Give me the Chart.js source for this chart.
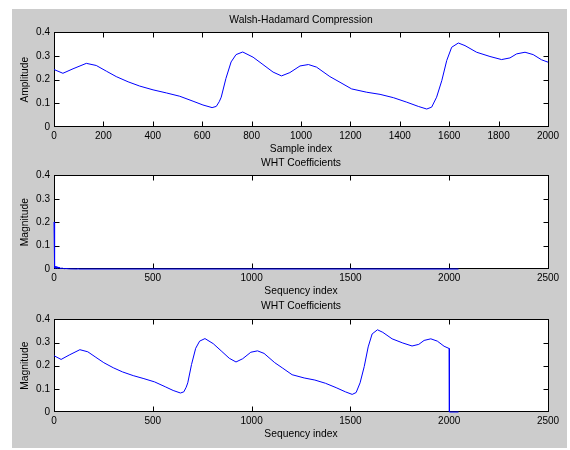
<!DOCTYPE html>
<html><head><meta charset="utf-8">
<script src="https://cdn.jsdelivr.net/npm/chart.js@4.4.1/dist/chart.umd.min.js"></script>
<style>
html,body{margin:0;padding:0;background:#fff;}
#wrap{position:relative;width:570px;height:450px;overflow:hidden;}
#fig{position:absolute;left:12px;top:9px;width:555px;height:439px;background:#cccccc;}
canvas{position:absolute;left:0;top:0;}
</style></head><body>
<div id="wrap"><div id="fig"></div>
<canvas id="c1" width="570" height="450"></canvas>
<canvas id="c2" width="570" height="450"></canvas>
<canvas id="c3" width="570" height="450"></canvas>
</div>
<script>
// ---- data ----
const sampleIdx = [0,36,77,131,171,212,252,300,347,401,455,509,563,603,640,657,669,677,696,717,737,764,806,846,887,921,955,996,1030,1063,1117,1158,1205,1266,1320,1374,1428,1475,1509,1529,1549,1570,1590,1610,1637,1664,1711,1765,1812,1846,1873,1907,1940,1974,2000];
const amplitude = [0.243,0.227,0.246,0.269,0.260,0.236,0.213,0.191,0.173,0.157,0.144,0.130,0.109,0.093,0.082,0.087,0.107,0.126,0.205,0.275,0.306,0.317,0.295,0.264,0.232,0.216,0.230,0.258,0.264,0.253,0.213,0.189,0.161,0.147,0.138,0.124,0.105,0.087,0.076,0.084,0.126,0.196,0.281,0.337,0.355,0.344,0.316,0.298,0.285,0.292,0.309,0.316,0.306,0.284,0.274];

const coefIdx = [0,1,2,3,4,5,6,7,8,10,12,14,16,18,20,22,25,28,31,35,40,45,50,60,80,119,121,123,2047];
const coefVal = [0.201,0.012,0.004,0.016,0.006,0.014,0.003,0.010,0.008,0.012,0.004,0.011,0.005,0.009,0.003,0.008,0.004,0.007,0.002,0.005,0.002,0.004,0.001,0.002,0.0005,0,0.003,0,0];

const padIdx = [2001, 2047];
const padVal = [0, 0];

const yTicks = [0, 0.1, 0.2, 0.3, 0.4];
const xTicksSample = [0,200,400,600,800,1000,1200,1400,1600,1800,2000];
const xTicksSeq = [0,500,1000,1500,2000,2500];

const titles = ['Walsh-Hadamard Compression', 'WHT Coefficients', 'WHT Coefficients'];
const xTitles = ['Sample index', 'Sequency index', 'Sequency index'];
const yTitles = ['Amplitude', 'Magnitude', 'Magnitude'];

// ---- rendering ----
Chart.defaults.font.family = '"Liberation Sans", Arial, sans-serif';
Chart.defaults.font.size = 10;
Chart.defaults.color = '#000';

const boxPlugin = {
  id: 'matlabBox',
  beforeDraw(chart) {
    const a = chart.chartArea, ctx = chart.ctx;
    ctx.save();
    ctx.fillStyle = '#ffffff';
    ctx.fillRect(a.left, a.top, a.right - a.left, a.bottom - a.top);
    ctx.restore();
  },
  beforeDatasetsDraw(chart) {
    const a = chart.chartArea, ctx = chart.ctx;
    const xs = chart.scales.x, ys = chart.scales.y;
    const L = Math.round(a.left) + 0.5, R = Math.round(a.right) + 0.5;
    const T = Math.round(a.top) + 0.5, B = Math.round(a.bottom) - 0.5;
    ctx.save();
    ctx.strokeStyle = '#000';
    ctx.lineWidth = 1;
    ctx.strokeRect(L, T, R - L, B - T);
    ctx.beginPath();
    const tl = 5;
    xs.ticks.forEach(t => {
      const p = Math.round(xs.getPixelForValue(t.value)) + 0.5;
      if (p <= L + 1 || p >= R - 1) return;
      ctx.moveTo(p, B); ctx.lineTo(p, B - tl);
      ctx.moveTo(p, T); ctx.lineTo(p, T + tl);
    });
    ys.ticks.forEach(t => {
      const p = Math.round(ys.getPixelForValue(t.value)) + 0.5;
      if (p <= T + 1 || p >= B - 1) return;
      ctx.moveTo(L, p); ctx.lineTo(L + tl, p);
      ctx.moveTo(R, p); ctx.lineTo(R - tl, p);
    });
    ctx.stroke();
    ctx.restore();
  }
};

function makeChart(id, k, xs, ys, xmax, xticks, geo) {
  const pts = xs.map((x, i) => ({x: x, y: ys[i]}));
  return new Chart(document.getElementById(id), {
    type: 'line',
    data: { datasets: [{ data: pts, borderColor: '#0000ff', borderWidth: 1, pointRadius: 0, tension: 0, fill: false, clip: 2 }] },
    options: {
      responsive: false, animation: false, events: [],
      layout: { padding: { left: 0, right: 22, top: 0, bottom: 0 } },
      plugins: {
        legend: { display: false }, tooltip: { enabled: false },
        title: { display: true, fullSize: false, text: titles[k], color: '#000', font: { size: 10.3, weight: 'normal' },
                 padding: { top: geo.tTop, bottom: geo.tBot } }
      },
      scales: {
        x: {
          type: 'linear', min: 0, max: xmax,
          grid: { display: false, drawTicks: false }, border: { display: false },
          afterBuildTicks: s => { s.ticks = xticks.map(v => ({ value: v })); },
          afterFit: s => { s.height = geo.xH; },
          ticks: { padding: 3, autoSkip: false, maxRotation: 0, color: '#000', callback: v => String(v) },
          title: { display: true, text: xTitles[k], color: '#000', font: { size: 10.3 }, padding: { top: 0, bottom: geo.xPad } }
        },
        y: {
          type: 'linear', min: 0, max: 0.4,
          grid: { display: false, drawTicks: false }, border: { display: false },
          afterBuildTicks: s => { s.ticks = yTicks.map(v => ({ value: v })); },
          afterFit: s => { s.width = 54; },
          ticks: { padding: 4, color: '#000', callback: v => String(v) },
          title: { display: true, text: yTitles[k], color: '#000', font: { size: 10.3 }, padding: { top: 18.5, bottom: 0 } }
        }
      }
    },
    plugins: [boxPlugin]
  });
}

makeChart('c1', 0, sampleIdx, amplitude, 2000, xTicksSample, { tTop: 14, tBot: 6, xH: 323, xPad: 294.6 });
makeChart('c2', 1, coefIdx, coefVal, 2500, xTicksSeq, { tTop: 157.3, tBot: 5.7, xH: 181, xPad: 152.7 });
makeChart('c3', 2, sampleIdx.concat(padIdx), amplitude.concat(padVal), 2500, xTicksSeq, { tTop: 300.3, tBot: 6.7, xH: 38, xPad: 9.5 });
</script>
</body></html>
